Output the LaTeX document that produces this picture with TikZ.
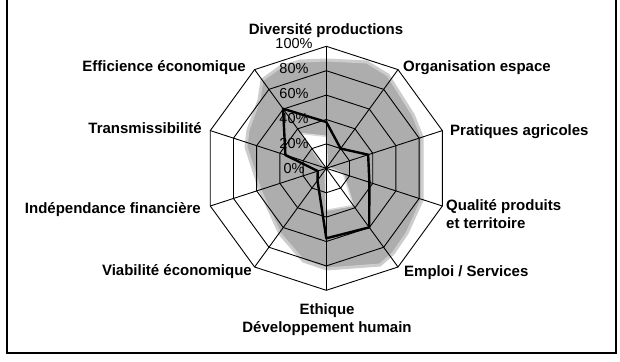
\documentclass[tikz,border=0pt]{standalone}
\usepackage{fontspec}
\setmainfont{Liberation Sans}
\begin{document}
\begin{tikzpicture}[x=1pt,y=-1pt,
  lab/.style={font=\fontsize{15}{17.5}\selectfont\bfseries, inner sep=0pt},
  pct/.style={font=\fontsize{14.5}{17}\selectfont, inner sep=0pt, anchor=base},
  gridline/.style={line width=0.9pt, black},
  framel/.style={line width=2pt, black},
  series/.style={line width=2.4pt, line join=round, black},
  band/.style={fill=black!32, draw=black!20, line width=3pt, line join=round},
  hole/.style={fill=white, draw=black!15, line width=1.5pt, line join=round}]
\useasboundingbox (0,0) rectangle (620,361);
\fill[white] (0,0) rectangle (620,361);
% frame
\coordinate (tl) at (7,0);
\coordinate (bl) at (7,353);
\coordinate (br) at (616,353);
\coordinate (tr) at (616,0);
\draw[framel] (tl) -- (bl) -- (br) -- (tr);
% grey band (outer)
\path[band] (326.7,60) -- (366.7,62) -- (388,75) -- (413.3,115) -- (422,136.7) -- (422,200)
  -- (407,233.3) -- (393.3,253.3) -- (380,265) -- (326.7,269) -- (303.3,261) -- (280,234)
  -- (260,190) -- (246,147) -- (248,130) -- (259,100) -- (262,80) -- (280,67) -- (300,61) -- cycle;
\begin{scope}[shift={(326.3,168.3)}]
  % inner white (min)
  \path[hole] (-90:32) -- (-54:2) -- (-18:3) -- (18:18) -- (54:46) -- (90:42) -- (126:2) -- (162:2) -- (198:2) -- (234:43) -- cycle;
  % grid
  \foreach \r in {24.4,48.8,73.2,97.6,122}
    \draw[gridline] (-90:\r) \foreach \a in {-54,-18,...,234} {-- (\a:\r)} -- cycle;
  \foreach \a in {-90,-54,...,234}
    \draw[gridline] (0,0) -- (\a:122);
  % series
  \draw[series] (-90:46.3) -- (-54:24.4) -- (-18:44) -- (18:45.3) -- (54:73) -- (90:70)
    -- (126:15) -- (162:9) -- (198:43) -- (234:73.6) -- cycle;
\end{scope}
% percent labels
\node[pct] (p100) at (294,48.5) {100\%};
\node[pct] (p80) at (294,73.4) {80\%};
\node[pct] (p60) at (294,98.3) {60\%};
\node[pct] (p40) at (294,123.2) {40\%};
\node[pct] (p20) at (294,148.1) {20\%};
\node[pct] (p0) at (294,173) {0\%};
% axis labels
\node[lab, anchor=base] (div) at (326,35) {Diversité productions};
\node[lab, anchor=base east] (eff) at (246,71) {Efficience économique};
\node[lab, anchor=base west] (org) at (403,71) {Organisation espace};
\node[lab, anchor=base east] (tra) at (202,133) {Transmissibilité};
\node[lab, anchor=base west] (pra) at (450,135) {Pratiques agricoles};
\node[lab, anchor=base east] (ind) at (201,213) {Indépendance financière};
\node[lab, anchor=base west, align=left] (qua) at (446,228) {Qualité produits\\et territoire};
\node[lab, anchor=base east] (via) at (252,275) {Viabilité économique};
\node[lab, anchor=base west] (emp) at (404,276) {Emploi / Services};
\node[lab, anchor=base, align=center] (eth) at (327,332) {Ethique\\Développement humain};
\end{tikzpicture}
\end{document}
